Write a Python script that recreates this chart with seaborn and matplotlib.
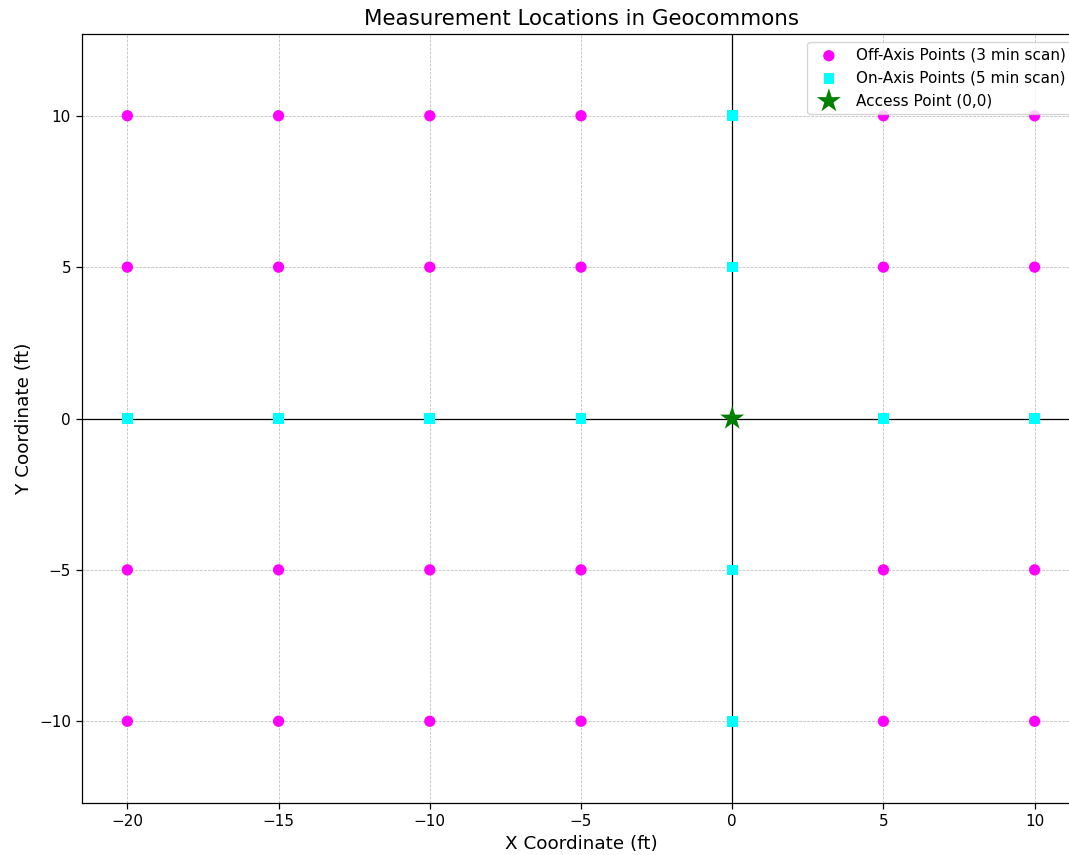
import matplotlib
matplotlib.use("Agg")
import matplotlib.pyplot as plt
import seaborn as sns
import pandas as pd

# Off-axis measurement points (3 min scan)
off_x = [-20, -15, -10, -5, 5, 10,
         -20, -15, -10, -5, 5, 10,
         -20, -15, -10, -5, 5, 10,
         -20, -15, -10, -5, 5, 10]
off_y = [10, 10, 10, 10, 10, 10,
         5, 5, 5, 5, 5, 5,
         -5, -5, -5, -5, -5, -5,
         -10, -10, -10, -10, -10, -10]

# On-axis measurement points (5 min scan)
on_x = [0, 0, 0, 0, -20, -15, -10, -5, 5, 10]
on_y = [10, 5, -5, -10, 0, 0, 0, 0, 0, 0]

# Access point
ap_x = [0]
ap_y = [0]

labels = ["Off-Axis Points (3 min scan)", "On-Axis Points (5 min scan)", "Access Point (0,0)"]
xticks = [-20, -15, -10, -5, 0, 5, 10]
yticks = [-10, -5, 0, 5, 10]

plt.rcParams['font.family'] = ['DejaVu Sans']
plt.rcParams['legend.markerscale'] = 1.0

fig = plt.figure(figsize=(10.69, 8.55), dpi=100)
ax = fig.add_axes([82/1069, (855-803)/855, 998/1069, 769/855])

ax.axhline(0, color='black', linewidth=0.9, zorder=1)
ax.axvline(0, color='black', linewidth=0.9, zorder=1)

sns.scatterplot(data=pd.DataFrame({"x": off_x, "y": off_y}), x="x", y="y", ax=ax,
                color='magenta', marker='o', s=66, edgecolor='none', label=labels[0], zorder=3)
sns.scatterplot(data=pd.DataFrame({"x": on_x, "y": on_y}), x="x", y="y", ax=ax,
                color='cyan', marker='s', s=58, edgecolor='none', label=labels[1], zorder=3)
sns.scatterplot(data=pd.DataFrame({"x": ap_x, "y": ap_y}), x="x", y="y", ax=ax,
                color='green', marker='*', s=330, edgecolor='none', label=labels[2], zorder=4)

ax.set_xlim(-21.5, 11.5)
ax.set_ylim(-12.7, 12.7)
ax.set_xticks(xticks)
ax.set_yticks(yticks)
ax.tick_params(axis='both', which='both', length=4.4, width=0.9, direction='out', labelsize=11,
               bottom=True, left=True, colors='black')
ax.grid(True, linestyle='--', linewidth=0.55, color='#bbbbbb')
ax.set_axisbelow(True)
for sp in ax.spines.values():
    sp.set_color('black')
    sp.set_linewidth(0.9)

ax.set_title("Measurement Locations in Geocommons", fontsize=15.4, pad=6.6)
ax.set_xlabel("X Coordinate (ft)", fontsize=13.2, labelpad=4.4)
ax.set_ylabel("Y Coordinate (ft)", fontsize=13.2, labelpad=4.4)
ax.legend(loc='upper right', fontsize=11, borderaxespad=0.5)

fig.savefig("out.png", dpi=100)
